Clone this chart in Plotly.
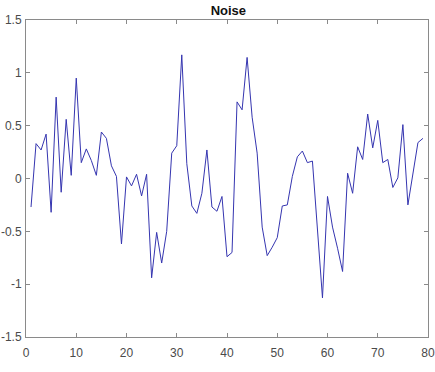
import plotly.graph_objects as go

x_vals = list(range(1, 80))
noise = [
    -0.27, 0.33, 0.27, 0.42, -0.32, 0.77, -0.13, 0.56, 0.03, 0.95,
    0.15, 0.28, 0.17, 0.03, 0.44, 0.38, 0.12, 0.02, -0.62, 0.015,
    -0.07, 0.04, -0.165, 0.04, -0.94, -0.51, -0.80, -0.50, 0.24, 0.31,
    1.17, 0.14, -0.26, -0.33, -0.14, 0.27, -0.27, -0.31, -0.17, -0.74,
    -0.70, 0.725, 0.65, 1.146, 0.58, 0.24, -0.46, -0.73, -0.65, -0.56,
    -0.26, -0.25, 0.02, 0.205, 0.26, 0.15, 0.165, -0.45, -1.13, -0.17,
    -0.46, -0.66, -0.88, 0.05, -0.14, 0.30, 0.18, 0.61, 0.29, 0.55,
    0.15, 0.18, -0.085, 0.006, 0.51, -0.25, 0.05, 0.34, 0.38,
]
x_ticks = [0, 10, 20, 30, 40, 50, 60, 70, 80]
y_ticks = [-1.5, -1, -0.5, 0, 0.5, 1, 1.5]
y_ticktext = ["-1.5", "-1", "-0.5", "0", "0.5", "1", "1.5"]
title_text = "Noise"

fig = go.Figure()
fig.add_trace(go.Scatter(
    x=x_vals, y=noise, mode="lines",
    line=dict(color="#3535b0", width=1),
    showlegend=False, hoverinfo="skip",
))

axis_common = dict(
    showline=True, linecolor="#8a8a8a", linewidth=1, mirror="ticks",
    ticks="inside", ticklen=4, tickcolor="#8a8a8a", tickwidth=1,
    showgrid=False, zeroline=False, automargin=False,
    tickfont=dict(family="Liberation Sans, Arial, sans-serif", size=12, color="#4a4a4a"),
)

fig.update_layout(
    width=435, height=372,
    margin=dict(l=26, r=7, t=20, b=35),
    paper_bgcolor="white", plot_bgcolor="white",
    title=dict(
        text="<b>" + title_text + "</b>",
        x=0.525, xanchor="center", y=0.973, yanchor="middle", automargin=False,
        font=dict(family="Liberation Sans, Arial, sans-serif", size=13, color="#111111"),
    ),
    xaxis=dict(range=[0, 80], tickvals=x_ticks, ticklabelstandoff=5, **axis_common),
    yaxis=dict(range=[-1.5, 1.5], tickvals=y_ticks, ticktext=y_ticktext,
               ticklabelstandoff=1, **axis_common),
)

fig.write_html("out.html")
